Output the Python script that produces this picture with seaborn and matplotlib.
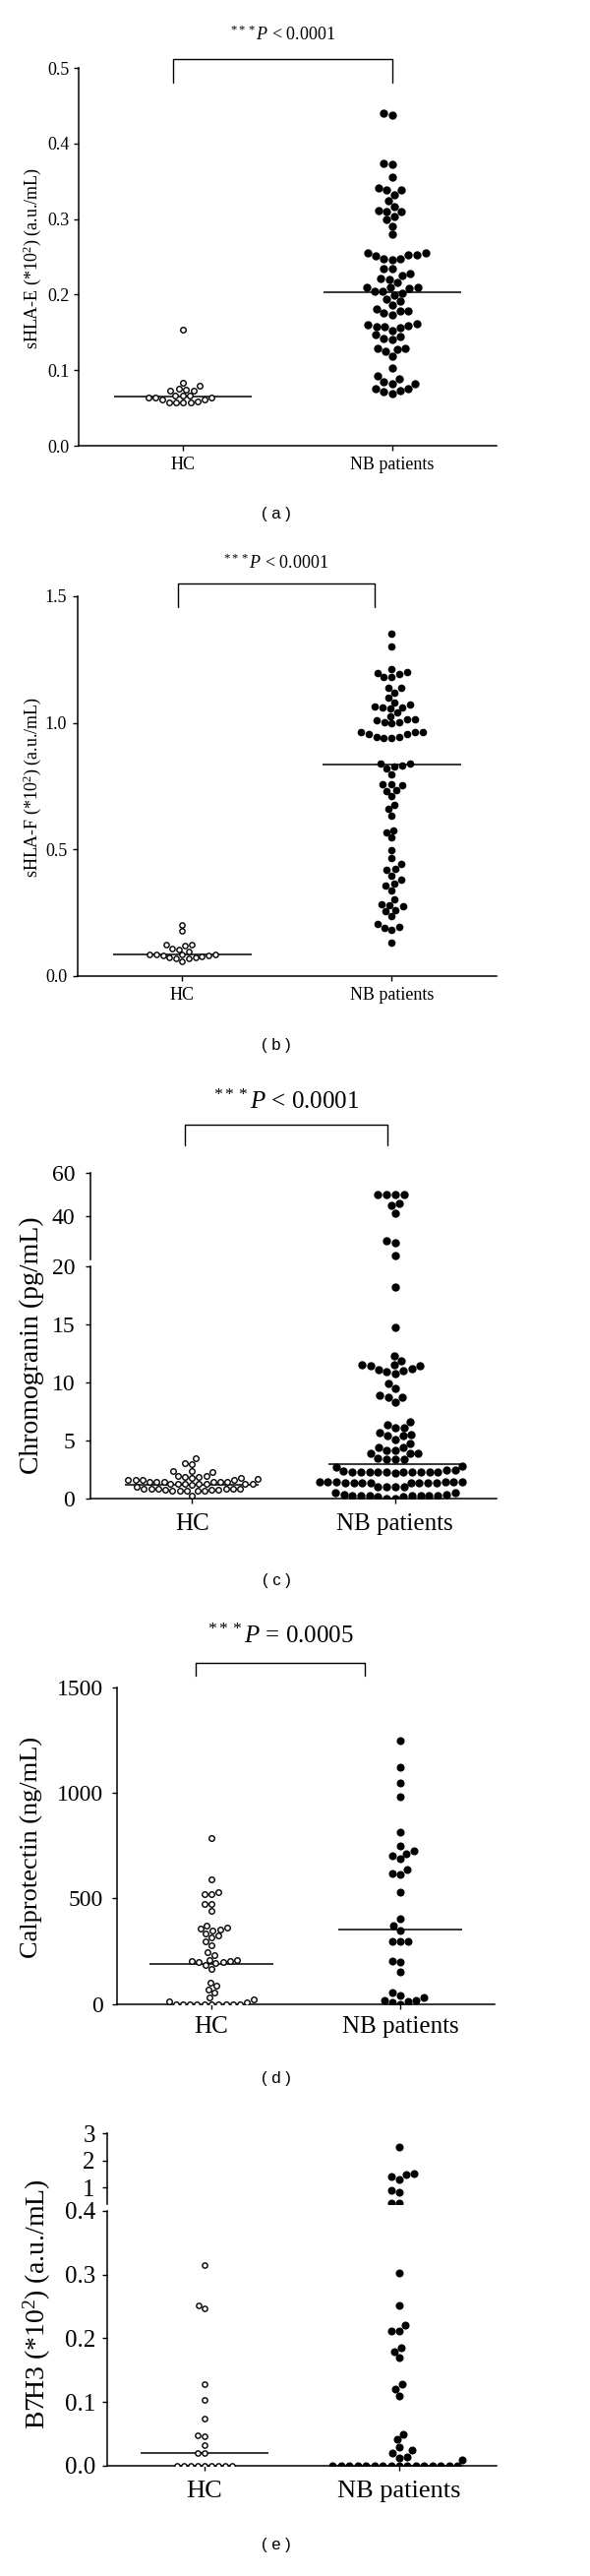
import matplotlib
matplotlib.use("Agg")
import matplotlib.pyplot as plt
from matplotlib.lines import Line2D
import numpy as np
import pandas as pd
import seaborn as sns

groups = ["HC", "NB patients"]

# ---------------- data ----------------
# (a) sHLA-E
a_hc = [0.153, 0.083, 0.076, 0.073, 0.073, 0.074, 0.079, 0.067, 0.066, 0.064, 0.061,
        0.059, 0.057, 0.057, 0.057, 0.057, 0.061, 0.064, 0.064, 0.066]
a_nb = [0.440, 0.438, 0.372, 0.374, 0.356, 0.338, 0.332, 0.338, 0.341, 0.324, 0.311,
        0.310, 0.316, 0.310, 0.299, 0.304, 0.291, 0.280, 0.255, 0.252, 0.248, 0.246,
        0.248, 0.251, 0.252, 0.255, 0.234, 0.235, 0.225, 0.222, 0.228, 0.216, 0.220,
        0.210, 0.208, 0.209, 0.210, 0.204, 0.202, 0.204, 0.194, 0.191, 0.199, 0.186,
        0.181, 0.178, 0.173, 0.176, 0.179, 0.162, 0.159, 0.158, 0.156, 0.158, 0.160,
        0.152, 0.144, 0.140, 0.142, 0.147, 0.129, 0.125, 0.127, 0.129, 0.118, 0.103,
        0.088, 0.092, 0.082, 0.085, 0.082, 0.076, 0.073, 0.069, 0.072, 0.075]
a_median = [0.065, 0.203]

# (b) sHLA-F
b_hc = [0.177, 0.203, 0.123, 0.110, 0.106, 0.119, 0.126, 0.097, 0.087, 0.084, 0.082,
        0.074, 0.071, 0.058, 0.069, 0.074, 0.078, 0.082, 0.084, 0.087]
b_nb = [1.354, 1.301, 1.211, 1.201, 1.192, 1.181, 1.181, 1.198, 1.137, 1.137, 1.118,
        1.101, 1.082, 1.071, 1.062, 1.056, 1.062, 1.066, 1.040, 1.026, 1.013, 1.004,
        0.997, 1.004, 1.010, 1.013, 0.962, 0.962, 0.956, 0.943, 0.939, 0.939, 0.943,
        0.956, 0.962, 0.838, 0.826, 0.797, 0.820, 0.832, 0.838, 0.758, 0.734, 0.732,
        0.710, 0.755, 0.758, 0.677, 0.661, 0.635, 0.576, 0.547, 0.567, 0.499, 0.466,
        0.443, 0.425, 0.421, 0.398, 0.382, 0.365, 0.356, 0.337, 0.304, 0.285, 0.281,
        0.275, 0.262, 0.255, 0.236, 0.207, 0.190, 0.184, 0.194, 0.133]
b_median = [0.084, 0.835]

# (c) Chromogranin
c_hc = [3.5, 3.1, 3.0, 2.4, 2.3, 2.4, 1.9, 1.8, 1.8, 2.0, 2.0, 1.9, 1.6, 1.5, 1.5, 1.7,
        1.6, 1.5, 1.5, 1.5, 1.5, 1.6, 1.6, 1.3, 1.3, 1.2, 1.3, 1.3, 1.3, 1.3, 1.3, 0.9,
        0.9, 0.9, 0.8, 0.8, 0.7, 0.7, 0.7, 0.7, 0.7, 0.8, 0.9, 0.9, 0.9, 1.0, 0.3]
c_nb = [50, 50, 50, 50, 45.9, 44.8, 41.4, 28.5, 27.7, 21.7,
        18.2, 14.7, 12.3, 11.9, 11.5, 11.4, 11.1, 11.0, 10.8, 10.9, 11.2, 11.4, 11.5,
        9.9, 9.5, 8.7, 8.3, 8.7, 8.9,
        6.6, 6.4, 6.1, 6.1, 5.5, 5.4, 5.7, 5.4, 5.1, 4.8, 4.4, 4.2, 3.9, 3.9, 3.9, 4.2,
        4.4, 3.4, 3.5, 3.4, 3.4, 2.7, 2.8,
        2.5, 2.3, 2.3, 2.3, 2.2, 2.3, 2.3, 2.3, 2.3, 2.3, 2.3, 2.3, 2.4, 2.5,
        1.5, 1.5, 1.5, 1.5, 1.4, 1.4, 1.4, 1.4, 1.4, 1.4, 1.4, 1.4, 1.5, 1.5,
        1.0, 1.0, 1.0, 1.0,
        0.5, 0.4, 0.3, 0.3, 0.3, 0.3, 0.2, 0.2, 0.3, 0.3, 0.3, 0.4, 0.5,
        0.05, 0.05]
c_median = [1.2, 3.0]

# (d) Calprotectin
d_hc = [785, 590, 521, 521, 531, 474, 474, 440, 373, 354, 350, 357, 360, 334, 323, 295,
        314, 277, 233, 246, 202, 199, 210, 210, 199, 202, 183, 168, 194, 101, 85, 70,
        54, 31, 22, 14, 8, 0, 0, 0, 0, 0, 0, 0, 0, 0, 0]
d_nb = [1246, 1122, 1049, 984, 813, 751, 726, 704, 687, 712, 637, 614, 618, 531, 404,
        370, 350, 295, 295, 295, 205, 199, 152, 54, 31, 19, 12, 0, 8, 16, 39]
d_median = [190, 353]

# (e) B7H3
e_hc = [0.314, 0.247, 0.251, 0.128, 0.104, 0.074, 0.046, 0.048, 0.033, 0.020, 0.020,
        0, 0, 0, 0, 0, 0, 0, 0, 0]
e_nb = [2.49, 1.48, 1.30, 1.42, 1.52, 0.92, 0.84, 0.45, 0.45, 0.302, 0.252, 0.212,
        0.212, 0.221, 0.185, 0.179, 0.169, 0.128, 0.121, 0.110, 0.049, 0.041, 0.029,
        0.020, 0.014, 0.024, 0.010, 0.013,
        0, 0, 0, 0, 0, 0, 0, 0, 0, 0, 0, 0, 0, 0, 0, 0]
e_median = [0.020, 0.0]

# ---------------- style ----------------
sns.set_theme(style="ticks")
plt.rcParams["font.family"] = ["Liberation Serif", "DejaVu Serif"]
plt.rcParams["mathtext.fontset"] = "custom"
plt.rcParams["mathtext.rm"] = "Liberation Serif"
plt.rcParams["mathtext.it"] = "Liberation Serif:italic"
plt.rcParams["axes.edgecolor"] = "black"

W, H = 600, 2618
fig = plt.figure(figsize=(W / 100, H / 100), dpi=100)
fig.patch.set_facecolor("white")


def frac(x0, y0, x1, y1):
    return [x0 / W, 1 - y1 / H, (x1 - x0) / W, (y1 - y0) / H]


def add_ax(x0, y0, x1, y1):
    return fig.add_axes(frac(x0, y0, x1, y1))


def swarm(ax, hc, nb, lo, hi, s_hc, s_nb):
    hc_in = [v for v in hc if lo <= v <= hi]
    nb_in = [v for v in nb if lo <= v <= hi]
    if hc_in:
        sns.swarmplot(data=pd.DataFrame({"group": "HC", "value": hc_in}),
                      x="group", y="value", order=groups, ax=ax, size=s_hc,
                      color="white", edgecolor="black", linewidth=1.0, zorder=4,
                      warn_thresh=1)
    if nb_in:
        sns.swarmplot(data=pd.DataFrame({"group": "NB patients", "value": nb_in}),
                      x="group", y="value", order=groups, ax=ax, size=s_nb,
                      color="black", edgecolor="black", linewidth=0, zorder=4,
                      warn_thresh=1)


def style(ax, yfs, ypad, xfs=None, xpad=None, bottom=True):
    for sp in ["top", "right"]:
        ax.spines[sp].set_visible(False)
    ax.spines["left"].set_linewidth(1.1)
    ax.spines["bottom"].set_linewidth(1.1)
    ax.tick_params(axis="y", direction="out", length=3.8, width=1.0,
                   labelsize=yfs, pad=ypad, colors="black")
    if bottom:
        ax.tick_params(axis="x", direction="out", length=3.8, width=1.0,
                       labelsize=xfs, pad=xpad, colors="black")
    else:
        ax.spines["bottom"].set_visible(False)
        ax.tick_params(axis="x", bottom=False, labelbottom=False)
    ax.set_xlabel("")
    ax.set_ylabel("")
    ax.set_xlim(-0.5, 1.5)
    ax.set_facecolor("none")


def medians(ax, meds, lo, hi):
    for i, m in enumerate(meds):
        if lo <= m <= hi:
            ax.hlines(m, i - 0.33, i + 0.33, colors="black", lw=1.1, zorder=3)


def bracket(x0, x1, ytop, ybot):
    xs = [x0, x0, x1, x1]
    ys = [ybot, ytop, ytop, ybot]
    fig.add_artist(Line2D([x / W for x in xs], [1 - y / H for y in ys],
                          color="black", lw=1.0, transform=fig.transFigure))


def ptext(x, y, s, fs):
    fig.text(x / W, 1 - y / H, s, ha="center", va="center", fontsize=fs, color="black")


def ylab(x, y, s, fs):
    fig.text(x / W, 1 - y / H, s, ha="center", va="center", rotation=90,
             fontsize=fs, color="black")


def caption(y, s):
    fig.text(281 / W, 1 - y / H, s, ha="center", va="center", fontsize=12,
             family="Liberation Sans", color="black")


P_LT = r"$^{***}$$\mathit{P}$ < 0.0001"
P_EQ = r"$^{***}$$\mathit{P}$ = 0.0005"
MUL = r"$*$"

# ---------------- panel a ----------------
ax = add_ax(80, 69, 505, 453)
swarm(ax, a_hc, a_nb, 0, 0.5, 4.0, 6.0)
medians(ax, a_median, 0, 0.5)
style(ax, 13, 3, 13, 4)
ax.set_ylim(0, 0.5)
ax.set_yticks([0.0, 0.1, 0.2, 0.3, 0.4, 0.5])
ax.set_yticklabels(["0.0", "0.1", "0.2", "0.3", "0.4", "0.5"])
ax.set_xticks([0, 1])
ax.set_xticklabels(groups)
bracket(176, 399, 60, 84)
ptext(288, 35, P_LT, 13)
ylab(33, 262, "sHLA-E (" + MUL + "10$^2$) (a.u./mL)", 13)
caption(522, "( a )")

# ---------------- panel b ----------------
ax = add_ax(79, 606, 505, 992)
swarm(ax, b_hc, b_nb, 0, 1.5, 3.8, 5.5)
medians(ax, b_median, 0, 1.5)
style(ax, 13, 4, 13, 4)
ax.set_ylim(0, 1.5)
ax.set_yticks([0.0, 0.5, 1.0, 1.5])
ax.set_yticklabels(["0.0", "0.5", "1.0", "1.5"])
ax.set_xticks([0, 1])
ax.set_xticklabels(groups)
bracket(181, 381, 593, 617)
ptext(281, 572, P_LT, 13)
ylab(33, 800, "sHLA-F (" + MUL + "10$^2$) (a.u./mL)", 13)
caption(1063, "( b )")

# ---------------- panel c (broken axis) ----------------
ax_u = add_ax(92, 1191.7, 505, 1279.7)
swarm(ax_u, c_hc, c_nb, 20.01, 60, 4.0, 6.0)
style(ax_u, 17, 7.5, bottom=False)
ax_u.set_ylim(20, 60)
ax_u.set_yticks([40, 60])
ax_u.set_yticklabels(["40", "60"])

ax = add_ax(92, 1286.7, 505, 1523.3)
swarm(ax, c_hc, c_nb, 0, 20, 4.0, 6.0)
medians(ax, c_median, 0, 20)
style(ax, 17, 7.5, 18, 6.5)
ax.set_ylim(0, 20)
ax.set_yticks([0, 5, 10, 15, 20])
ax.set_yticklabels(["0", "5", "10", "15", "20"])
ax.set_xticks([0, 1])
ax.set_xticklabels(groups)
bracket(188, 394, 1143, 1164)
ptext(291, 1120, P_LT, 18)
ylab(32, 1367, "Chromogranin (pg/mL)", 20)
caption(1607, "( c )")

# ---------------- panel d ----------------
ax = add_ax(119, 1715, 503, 2036.7)
swarm(ax, d_hc, d_nb, 0, 1500, 4.0, 5.8)
medians(ax, d_median, 0, 1500)
style(ax, 17, 6.5, 18, 5)
ax.set_ylim(0, 1500)
ax.set_yticks([0, 500, 1000, 1500])
ax.set_yticklabels(["0", "500", "1000", "1500"])
ax.set_xticks([0, 1])
ax.set_xticklabels(groups)
bracket(199, 371, 1690, 1703)
ptext(285, 1663, P_EQ, 18)
ylab(32, 1877, "Calprotectin (ng/mL)", 19)
caption(2113, "( d )")

# ---------------- panel e (broken axis) ----------------
ax_u = add_ax(109, 2168.3, 505, 2240)
swarm(ax_u, e_hc, e_nb, 0.4001, 3.0, 3.8, 5.8)
style(ax_u, 18, 5, bottom=False)
ax_u.set_ylim(0.4, 3.0)
ax_u.set_yticks([1, 2, 3])
ax_u.set_yticklabels(["1", "2", "3"])

ax = add_ax(109, 2246.7, 505, 2506)
swarm(ax, e_hc, e_nb, 0, 0.4, 3.8, 5.8)
medians(ax, e_median, 0, 0.4)
style(ax, 18, 5, 19, 7)
ax.set_ylim(0, 0.4)
ax.set_yticks([0.0, 0.1, 0.2, 0.3, 0.4])
ax.set_yticklabels(["0.0", "0.1", "0.2", "0.3", "0.4"])
ax.set_xticks([0, 1])
ax.set_xticklabels(groups)
ylab(38, 2342, "B7H3 (" + MUL + "10$^2$) (a.u./mL)", 20)
caption(2587, "( e )")

fig.savefig("out.png", dpi=100, facecolor="white")
